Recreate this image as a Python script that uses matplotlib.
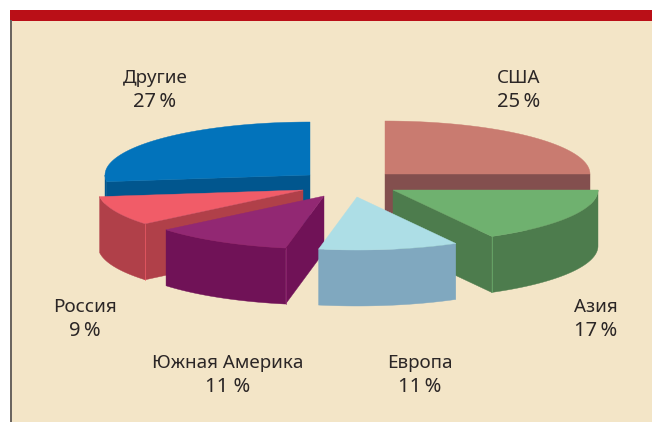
import numpy as np
import matplotlib
matplotlib.use('Agg')
import matplotlib.pyplot as plt
from matplotlib.patches import Polygon, Rectangle

categories = ['США', 'Азия', 'Европа', 'Южная Америка', 'Россия', 'Другие']
shares = [25, 17, 11, 11, 9, 27]
share_labels = ['25\u2009%', '17\u2009%', '11\u2009%', '11 %', '9\u2009%', '27\u2009%']

# looks
top_colors = ['#C97B70', '#6FB16F', '#ADDEE6', '#922873', '#F15C68', '#0273BB']
wall_colors = ['#834F4E', '#4D7C4D', '#80A8BF', '#701257', '#B04049', '#01568E']
apex = [(385, 174), (393, 190), (357, 197), (324, 196), (303, 190), (310, 175)]
label_pos = [(519, 78), (596, 307), (420, 363), (228, 363), (85, 307), (155, 78)]
draw_order = [5, 0, 4, 1, 3, 2]
rx, ry, depth = 205, 53, 56

plt.rcParams['font.family'] = ['Noto Sans', 'DejaVu Sans']

fig = plt.figure(figsize=(6.52, 4.22), dpi=100, facecolor='white')
ax = fig.add_axes([0, 0, 1, 1])
ax.set_xlim(0, 652)
ax.set_ylim(422, 0)
ax.axis('off')

# page background, red bar on top, grey rule at left
ax.add_patch(Rectangle((11, 20), 641, 402, fc='#F3E5C7', ec='none', zorder=0))
ax.add_patch(Rectangle((10, 10), 642, 10.5, fc='#BA0F17', ec='none', zorder=0))
ax.add_patch(Rectangle((10, 20), 2, 402, fc='#6B6560', ec='none', zorder=0))


def rim(a, theta):
    # theta goes clockwise from 12 o'clock, in degrees
    t = np.radians(theta)
    return a[0] + rx * np.sin(t), a[1] - ry * np.cos(t)


def wall(points, color, z):
    pts = list(points)
    low = [(x, y + depth) for x, y in reversed(pts)]
    ax.add_patch(Polygon(pts + low, closed=True, fc=color, ec=color, lw=0.3, zorder=z))


edges = np.cumsum([0] + shares) * 3.6
for n, i in enumerate(draw_order):
    a = apex[i]
    start, end = edges[i], edges[i + 1]
    z = 1 + n

    # only the cut faces that turn to the viewer
    if 90 <= end <= 180:
        wall([a, rim(a, end)], wall_colors[i], z)
    if 180 <= start <= 270:
        wall([a, rim(a, start)], wall_colors[i], z)

    # outer wall, front half only
    lo, hi = max(start, 90), min(end, 270)
    if lo < hi:
        wall([rim(a, t) for t in np.linspace(lo, hi, 60)], wall_colors[i], z)

    # light seam on the corner
    if 90 < end <= 180:
        x, y = rim(a, end)
        ax.plot([x, x], [y, y + depth], color=top_colors[i], lw=0.5, zorder=z)
    if 180 <= start <= 240:
        x, y = rim(a, start)
        ax.plot([x, x], [y, y + depth], color=top_colors[i], lw=0.5, zorder=z)

    arc = [rim(a, t) for t in np.linspace(start, end, 120)]
    ax.add_patch(Polygon([a] + arc, closed=True, fc=top_colors[i], ec=top_colors[i], lw=0.3, zorder=z))

for name, pct, (x, y) in zip(categories, share_labels, label_pos):
    ax.text(x, y, name, ha='center', va='center', fontsize=13.5, color='#2B2626', zorder=10)
    ax.text(x, y + 24, pct, ha='center', va='center', fontsize=14.5, color='#2B2626', zorder=10)

fig.savefig('out.png', dpi=100)
